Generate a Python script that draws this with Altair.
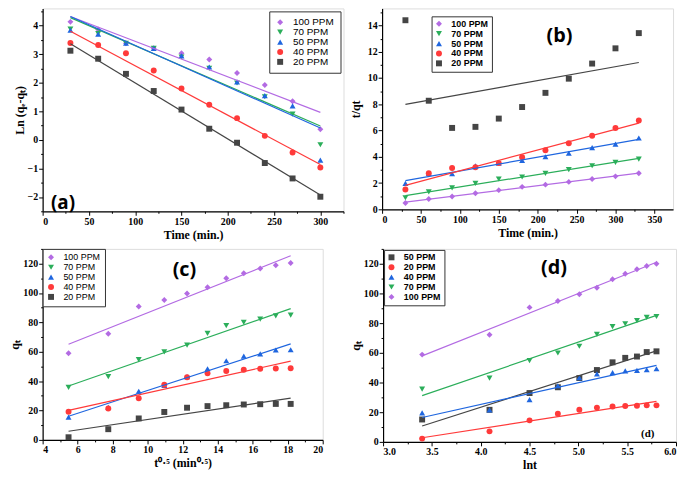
import altair as alt
import pandas as pd

# ---------------- data ----------------
series_abc = ["100 PPM", "70 PPM", "50 PPM", "40 PPM", "20 PPM"]
series_d = ["50 PPM", "20 PPM", "40 PPM", "70 PPM", "100 PPM"]

PURPLE, GREEN, BLUE, RED, GRAY = "#B36BE3", "#2BAE5A", "#1F66DF", "#FF3A3A", "#454545"
colors_abc = [PURPLE, GREEN, BLUE, RED, GRAY]
shapes_abc = ["diamond", "triangle-down", "triangle-up", "circle", "square"]
colors_d = [GRAY, RED, BLUE, GREEN, PURPLE]
shapes_d = ["square", "circle", "triangle-up", "triangle-down", "diamond"]

# (a) pseudo-first-order
time_a = [30, 60, 90, 120, 150, 180, 210, 240, 270, 300]
a_100 = [4.13, 3.86, 3.38, 3.21, 3.03, 2.81, 2.34, 1.92, 1.35, 0.37]
a_70 = [3.88, 3.72, 3.38, 3.20, 2.90, 2.50, 1.99, 1.51, 0.90, -0.17]
a_50 = [3.84, 3.70, 3.38, 3.20, 2.94, 2.55, 2.03, 1.55, 1.19, -0.71]
a_40 = [3.39, 3.32, 3.03, 2.43, 1.80, 1.23, 0.76, 0.14, -0.44, -0.97]
a_20 = [3.12, 2.84, 2.31, 1.71, 1.06, 0.39, -0.10, -0.81, -1.35, -1.99]

# (b) pseudo-second-order
time_b = [30, 60, 90, 120, 150, 180, 210, 240, 270, 300, 330]
b_100 = [0.48, 0.78, 0.98, 1.23, 1.46, 1.71, 1.88, 2.09, 2.31, 2.51, 2.74]
b_70 = [0.88, 1.33, 1.63, 1.98, 2.31, 2.46, 2.74, 3.02, 3.32, 3.57, 3.82]
b_50 = [1.98, 2.74, 2.71, 3.32, 3.52, 3.72, 4.00, 4.27, 4.70, 4.97, 5.43]
b_40 = [1.51, 2.74, 3.14, 3.20, 3.52, 3.97, 4.50, 5.03, 5.60, 6.20, 6.76]
b_20 = [14.40, 8.27, 6.20, 6.28, 6.91, 7.79, 8.87, 9.95, 11.10, 12.26, 13.42]

# (c) intraparticle diffusion
sqrt_t = [5.48, 7.75, 9.49, 10.95, 12.25, 13.42, 14.49, 15.49, 16.43, 17.32, 18.17]
c_100 = [59.0, 72.3, 90.8, 95.2, 99.7, 103.9, 110.0, 113.4, 116.7, 118.9, 120.4]
c_70 = [35.8, 43.1, 54.6, 59.9, 64.5, 72.5, 77.8, 80.0, 82.2, 84.4, 84.9]
c_50 = [15.5, 22.1, 33.1, 37.1, 43.1, 48.4, 53.9, 57.0, 58.6, 61.2, 61.4]
c_40 = [19.2, 21.4, 28.3, 37.6, 42.7, 45.3, 46.9, 47.7, 48.4, 48.6, 48.8]
c_20 = [1.8, 7.3, 14.6, 19.0, 21.9, 23.0, 23.6, 24.1, 24.3, 24.5, 24.5]

# (d) Elovich
ln_t = [3.40, 4.09, 4.50, 4.79, 5.01, 5.19, 5.35, 5.48, 5.60, 5.70, 5.80]
d_50 = [15.1, 21.6, 32.9, 36.8, 43.0, 48.4, 53.6, 56.6, 57.5, 60.5, 61.0]
d_20 = [2.2, 7.1, 14.5, 19.0, 21.6, 23.1, 23.8, 24.2, 24.4, 24.6, 24.6]
d_40 = [19.5, 21.6, 28.5, 37.8, 43.2, 45.8, 46.7, 47.8, 48.2, 48.6, 49.3]
d_70 = [35.5, 43.0, 54.7, 59.9, 64.4, 72.4, 77.6, 79.6, 81.7, 83.9, 84.5]
d_100 = [58.8, 72.2, 90.6, 94.9, 99.5, 103.8, 109.6, 113.3, 116.3, 118.5, 120.0]


def long(xs, named):
    rows = []
    for name, ys in named:
        for x, y in zip(xs, ys):
            rows.append({"x": x, "y": y, "series": name})
    return pd.DataFrame(rows)


df_a = long(time_a, [("100 PPM", a_100), ("70 PPM", a_70), ("50 PPM", a_50), ("40 PPM", a_40), ("20 PPM", a_20)])
df_b = long(time_b, [("100 PPM", b_100), ("70 PPM", b_70), ("50 PPM", b_50), ("40 PPM", b_40), ("20 PPM", b_20)])
df_c = long(sqrt_t, [("100 PPM", c_100), ("70 PPM", c_70), ("50 PPM", c_50), ("40 PPM", c_40), ("20 PPM", c_20)])
df_d = long(ln_t, [("50 PPM", d_50), ("20 PPM", d_20), ("40 PPM", d_40), ("70 PPM", d_70), ("100 PPM", d_100)])

SERIF = "Liberation Serif"
SANS = "Liberation Sans"


def frange(a, b, step):
    out = []
    v = a
    while v <= b + 1e-9:
        out.append(round(v, 4))
        v += step
    return out


def panel(df, order, cols, shapes, xdom, ydom, xticks, yticks, xminor, yminor,
          xtitle, ytitle, w, h, legend, labels, xfmt="d", ytpad=1):
    xs = alt.Scale(domain=xdom, nice=False, zero=False)
    ys = alt.Scale(domain=ydom, nice=False, zero=False)
    major = dict(grid=False, domainColor="black", domainWidth=1.2, tickColor="black",
                 tickSize=4, tickWidth=1, labelFont=SERIF, labelFontWeight="bold",
                 labelFontSize=10, labelColor="black", labelPadding=1,
                 titleFont=SERIF, titleFontWeight="bold", titleFontSize=12,
                 titleColor="black")
    pts = alt.Chart(df).mark_point(filled=True, size=36, opacity=1).encode(
        x=alt.X("x:Q", scale=xs, axis=alt.Axis(values=xticks, title=xtitle, format=xfmt,
                                              titlePadding=3, **major)),
        y=alt.Y("y:Q", scale=ys, axis=alt.Axis(values=yticks, title=ytitle, titlePadding=ytpad,
                                              **major)),
        color=alt.Color("series:N", scale=alt.Scale(domain=order, range=cols), legend=legend),
        shape=alt.Shape("series:N", scale=alt.Scale(domain=order, range=shapes), legend=legend),
    )
    lines = alt.Chart(df).transform_regression(
        "x", "y", groupby=["series"]
    ).mark_line(strokeWidth=1.2).encode(
        x=alt.X("x:Q", scale=xs, axis=None),
        y=alt.Y("y:Q", scale=ys, axis=None),
        color=alt.Color("series:N", scale=alt.Scale(domain=order, range=cols), legend=None),
    )
    # points layer first so that its (enabled) legend wins the layer merge
    layers = [pts, lines]
    for (tx, ty, txt, font, size) in labels:
        tdf = pd.DataFrame({"x": [tx], "y": [ty], "t": [txt]})
        layers.append(alt.Chart(tdf).mark_text(font=font, fontWeight="bold", fontSize=size,
                                               color="black").encode(
            x=alt.X("x:Q", scale=xs, axis=None),
            y=alt.Y("y:Q", scale=ys, axis=None),
            text="t:N"))
    minor = alt.Chart(df).mark_point(opacity=0).encode(
        x=alt.X("x:Q", scale=xs, axis=alt.Axis(values=xminor, labels=False, title=None, grid=False,
                                              domain=False, tickSize=2, tickColor="black",
                                              orient="bottom")),
        y=alt.Y("y:Q", scale=ys, axis=alt.Axis(values=yminor, labels=False, title=None, grid=False,
                                              domain=False, tickSize=2, tickColor="black",
                                              orient="left")),
    )
    layers.append(minor)
    return alt.layer(*layers).resolve_axis(x="independent", y="independent").properties(
        width=w, height=h)


def leg(bold, size, pad, **kw):
    return alt.Legend(title=None, labelFont=SANS, labelFontSize=size,
                      labelFontWeight="bold" if bold else "normal", labelColor="black",
                      strokeColor="#333333", fillColor="#ffffff", padding=pad, rowPadding=0,
                      symbolSize=36, symbolStrokeWidth=0, labelOffset=8, **kw)


pa = panel(df_a, series_abc, colors_abc, shapes_abc, [0, 325], [-2.5, 4.6],
           frange(0, 300, 50), frange(-2, 4, 1), frange(25, 325, 50), frange(-2.5, 4.5, 1),
           "Time (min.)", "Ln (qₑ-qₜ)", 304, 205,
           leg(False, 10, 6, orient="top-right", offset=3),
           [(22, -2.2, "(a)", "Open Sans", 19)])

pb = panel(df_b, series_abc, colors_abc, shapes_abc, [0, 374], [0, 15.3],
           frange(0, 350, 50), frange(0, 14, 2), frange(25, 325, 50), frange(1, 15, 2),
           "Time (min.)", "t/qt", 294, 203,
           leg(True, 9, 3, orient="none", legendX=50, legendY=8),
           [(228, 13.2, "(b)", "Open Sans", 20)], ytpad=5)

pc = panel(df_c, series_abc, colors_abc, shapes_abc, [4, 20], [0, 130],
           frange(4, 20, 2), frange(0, 120, 20), frange(5, 19, 2), frange(10, 130, 20),
           "t⁰·⁵ (min⁰·⁵)", "qₜ", 283, 193,
           leg(False, 9, 4, orient="top-left", offset=0),
           [(12.1, 115.3, "(c)", "Open Sans", 20)])

pd_ = panel(df_d, series_d, colors_d, shapes_d, [3, 6], [0, 130],
            frange(3, 6, 0.5), frange(0, 120, 20), frange(3.25, 5.75, 0.5), frange(10, 130, 20),
            "lnt", "qₜ", 296, 195,
            leg(True, 9, 3, orient="top-left", offset=1),
            [(4.75, 117, "(d)", "Open Sans", 20), (5.71, 5, "(d)", SERIF, 11)], xfmt=".1f")

chart = alt.concat(pa, pb, pc, pd_, columns=2, align="none",
                   spacing={"row": 7, "column": 4}).resolve_scale(
    color="independent", shape="independent"
).properties(
    padding={"left": 0, "top": -3, "right": 0, "bottom": -2}
).configure_view(stroke="#999", strokeWidth=1).configure_legend(
    strokeColor="#333333", strokeWidth=1.5
).configure(background="white")

chart.save("out.html", embed_options={"renderer": "svg", "actions": False})
